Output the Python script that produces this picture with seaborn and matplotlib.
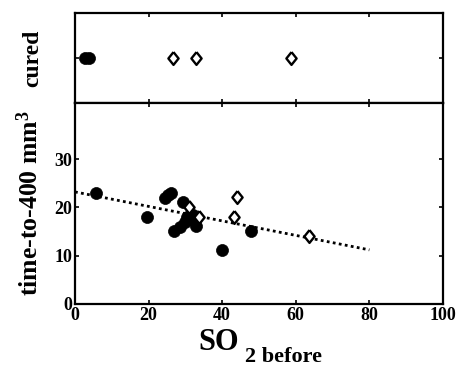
import matplotlib
matplotlib.use("Agg")
import matplotlib.pyplot as plt
import seaborn as sns
import pandas as pd

# ---- data ----
not_cured_x = [5.6, 19.7, 24.5, 25.3, 26.0, 29.4, 27.0, 28.5, 30.0, 31.0, 32.0, 30.5, 33.0, 39.9, 47.7]
not_cured_y = [23.0, 18.1, 22.0, 22.6, 23.0, 21.2, 15.1, 16.0, 17.0, 17.5, 18.5, 18.0, 16.1, 11.2, 15.1]
late_x = [31.1, 33.8, 43.2, 43.9, 63.6]
late_y = [20.1, 18.1, 18.1, 22.2, 14.1]
fit_x = [0, 80]
fit_y = [23.2, 11.2]
cured_filled_x = [2.6, 3.8]
cured_open_x = [26.7, 33.0, 58.6]
x_ticks = [0, 20, 40, 60, 80, 100]
y_ticks = [0, 10, 20, 30]

sns.set_theme(style="white")
plt.rcParams["font.family"] = ["Liberation Serif", "DejaVu Serif"]
plt.rcParams["font.weight"] = "bold"
plt.rcParams["mathtext.fontset"] = "custom"
plt.rcParams["mathtext.rm"] = "Liberation Serif:bold"
plt.rcParams["mathtext.bf"] = "Liberation Serif:bold"
plt.rcParams["mathtext.it"] = "Liberation Serif:bold"
for k in ("text.color", "axes.labelcolor", "xtick.color", "ytick.color"):
    plt.rcParams[k] = "black"

diamond = [(0, 1), (0.8, 0), (0, -1), (-0.8, 0), (0, 1)]

fig = plt.figure(figsize=(4.6, 3.68), dpi=100)
ax_top = fig.add_axes([0.163, 0.720, 0.800, 0.245])
ax = fig.add_axes([0.163, 0.174, 0.800, 0.546])

df_nc = pd.DataFrame({"x": not_cured_x, "y": not_cured_y})
df_l = pd.DataFrame({"x": late_x, "y": late_y})
df_fit = pd.DataFrame({"x": fit_x, "y": fit_y})

sns.lineplot(data=df_fit, x="x", y="y", ax=ax, color="black", linestyle=(0, (1, 1.2)),
             linewidth=2.0, zorder=1)
sns.scatterplot(data=df_nc, x="x", y="y", ax=ax, color="black", marker="o", s=75,
                edgecolor="black", linewidth=0.5, zorder=3)
sns.scatterplot(data=df_l, x="x", y="y", ax=ax, marker=diamond, s=85, facecolor="white",
                edgecolor="black", linewidth=1.7, zorder=4)

df_cf = pd.DataFrame({"x": cured_filled_x, "y": [1] * len(cured_filled_x)})
df_co = pd.DataFrame({"x": cured_open_x, "y": [1] * len(cured_open_x)})
sns.scatterplot(data=df_cf, x="x", y="y", ax=ax_top, color="black", marker="o", s=75,
                edgecolor="black", linewidth=0.5, zorder=3)
sns.scatterplot(data=df_co, x="x", y="y", ax=ax_top, marker=diamond, s=85, facecolor="white",
                edgecolor="black", linewidth=1.7, zorder=4)

for a in (ax, ax_top):
    a.set_xlim(0, 100)
    for s in a.spines.values():
        s.set_visible(True)
        s.set_color("black")
        s.set_linewidth(1.6)
    a.tick_params(direction="in", length=3, width=1.2, color="black",
                  top=True, right=True, bottom=True, left=True)

ax.set_ylim(0, 41.6)
ax.set_xticks(x_ticks)
ax.set_yticks(y_ticks)
ax.set_xticklabels([str(t) for t in x_ticks], fontsize=13, fontweight="bold")
ax.set_yticklabels([str(t) for t in y_ticks], fontsize=13, fontweight="bold")
ax.tick_params(axis="both", pad=2)
ax.set_xlabel("")
ax.set_ylabel(r"time-to-400 mm$^3$", fontsize=18.5, fontweight="bold", labelpad=8)

fig.text(198 / 460, 1 - 350 / 368, "SO", fontsize=22, fontweight="bold",
         ha="left", va="baseline")
fig.text(245 / 460, 1 - 362 / 368, "2 before", fontsize=16, fontweight="bold",
         ha="left", va="baseline")

ax_top.set_ylim(0, 2)
ax_top.set_xticks(x_ticks)
ax_top.set_yticks([1])
ax_top.set_xticklabels([])
ax_top.set_yticklabels([])
ax_top.set_xlabel("")
ax_top.set_ylabel("cured", fontsize=17, fontweight="bold", labelpad=19)

fig.savefig("out.png", dpi=100)
